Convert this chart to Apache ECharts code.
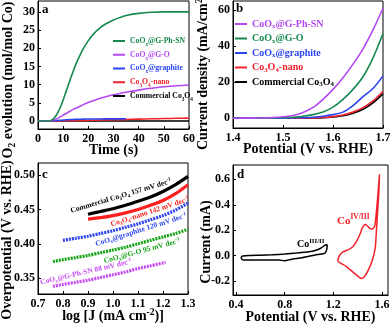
<!DOCTYPE html>
<html>
<head>
<meta charset="utf-8">
<script src="https://cdn.jsdelivr.net/npm/echarts@6/dist/echarts.min.js"></script>
<style>
html, body { margin: 0; padding: 0; background: #fff; }
#chart { width: 390px; height: 325px; }
</style>
</head>
<body>
<div id="chart"></div>
<script>
// panel a: O2 evolution vs time
var timeA = [0, 4, 5, 6, 7, 8, 9, 10, 11, 12, 13, 14, 15, 16, 18, 20, 22, 25, 28, 30, 35, 40, 45, 50, 55, 60];
var o2PhSN = [0, 0, 0.1, 0.5, 1.3, 2.5, 4, 5.8, 7.8, 9.8, 11.8, 13.7, 15.5, 17.1, 19.9, 22.1, 23.9, 25.8, 27.1, 27.8, 29, 29.6, 29.9, 30, 30, 30];
var o2GO = [0, 0, 0.05, 0.2, 0.45, 0.8, 1.2, 1.6, 2, 2.4, 2.8, 3.2, 3.5, 3.8, 4.5, 5.1, 5.6, 6.3, 6.9, 7.2, 7.9, 8.5, 9, 9.4, 9.7, 9.9];
var o2Graphite = [0, 0, 0.02, 0.05, 0.1, 0.15, 0.2, 0.25, 0.3, 0.35, 0.4, 0.42, 0.45, 0.48, 0.52, 0.55, 0.56, 0.57, 0.58, 0.58, 0.6, null, null, null, null, null];
var o2Nano = [0, 0, 0.01, 0.02, 0.03, 0.04, 0.05, 0.07, 0.08, 0.09, 0.1, 0.11, 0.12, 0.13, 0.16, 0.19, 0.22, 0.27, 0.32, 0.35, 0.43, 0.52, 0.6, 0.67, 0.74, 0.8];
var o2Comm = [0, 0, 0, 0, 0, 0, 0, 0, 0, 0, 0, 0, 0, 0, 0, 0, 0, 0, 0, 0, 0, 0, 0, 0, 0, 0];

// panel b: polarization curves
var potB = [1.40, 1.42, 1.44, 1.46, 1.48, 1.50, 1.52, 1.54, 1.56, 1.58, 1.60, 1.62, 1.64, 1.66, 1.68, 1.70];
var jPhSN = [0, 0.05, 0.1, 0.2, 0.4, 0.8, 1.5, 3.2, 6, 10.5, 16, 22.5, 30, 38.5, 49, 61];
var jGO = [0, 0, 0.05, 0.1, 0.2, 0.35, 0.6, 1.1, 2, 3.5, 6.2, 10.5, 16, 23, 33.5, 47];
var jGraphite = [0, 0, 0, 0.02, 0.05, 0.1, 0.2, 0.35, 0.6, 1.1, 2, 3.4, 7, 12, 16.5, 23.5];
var jNano = [0, 0, 0, 0, 0, 0.02, 0.05, 0.1, 0.2, 0.4, 0.9, 1.8, 3.4, 5.9, 9.6, 15];
var jComm = [0, 0, 0, 0, 0, 0, 0.02, 0.05, 0.12, 0.3, 0.7, 1.4, 2.8, 5, 8.6, 13.5];

// panel c: Tafel plots
var tafCommX = [0.90, 0.95, 1.00, 1.05, 1.10, 1.15, 1.20, 1.25, 1.30];
var tafCommY = [0.443, 0.447, 0.451, 0.456, 0.462, 0.468, 0.476, 0.486, 0.498];
var tafNanoX = [0.90, 0.95, 1.00, 1.05, 1.10, 1.15, 1.20, 1.25, 1.30];
var tafNanoY = [0.436, 0.438, 0.441, 0.445, 0.450, 0.456, 0.463, 0.473, 0.486];
var tafGraphiteX = [0.80, 0.85, 0.90, 0.95, 1.00, 1.05, 1.10, 1.15, 1.20, 1.25, 1.30];
var tafGraphiteY = [0.405, 0.408, 0.411, 0.415, 0.419, 0.424, 0.429, 0.435, 0.441, 0.449, 0.459];
var tafGOX = [0.76, 0.80, 0.85, 0.90, 0.95, 1.00, 1.05, 1.10, 1.15, 1.20, 1.25, 1.30];
var tafGOY = [0.374, 0.377, 0.380, 0.383, 0.387, 0.391, 0.395, 0.400, 0.405, 0.410, 0.415, 0.421];
var tafPhSNX = [0.76, 0.80, 0.85, 0.90, 0.95, 1.00, 1.05, 1.10, 1.15, 1.21];
var tafPhSNY = [0.338, 0.341, 0.344, 0.347, 0.351, 0.355, 0.359, 0.364, 0.368, 0.373];

// panel d: cyclic voltammograms
var cvLowV = [0.44, 0.45, 0.50, 0.60, 0.70, 0.80, 0.90, 1.00, 1.05, 1.10, 1.14, 1.15, 1.14, 1.12, 1.05, 0.95, 0.85, 0.80, 0.75, 0.65, 0.55, 0.46, 0.44];
var cvLowI = [-0.02, -0.005, 0.0, 0.003, 0.007, 0.012, 0.02, 0.03, 0.04, 0.06, 0.085, 0.08, 0.03, 0.015, 0.005, -0.015, -0.03, -0.04, -0.035, -0.035, -0.035, -0.035, -0.02];
var cvHighV = [1.235, 1.25, 1.28, 1.32, 1.36, 1.39, 1.42, 1.44, 1.46, 1.48, 1.50, 1.52, 1.54, 1.55, 1.56, 1.57, 1.58, 1.575, 1.565, 1.555, 1.545, 1.52, 1.49, 1.46, 1.43, 1.40, 1.35, 1.30, 1.26, 1.235];
var cvHighI = [-0.04, 0.0, 0.03, 0.045, 0.07, 0.11, 0.17, 0.22, 0.245, 0.235, 0.215, 0.21, 0.23, 0.3, 0.4, 0.52, 0.64, 0.5, 0.35, 0.2, 0.06, -0.04, -0.11, -0.16, -0.18, -0.16, -0.12, -0.08, -0.06, -0.04];

var serif = 'Liberation Serif';
var green = '#17894f', purple = '#b347f2', blue = '#2b45f2', red = '#f2222a', black = '#000';
var cGreen = '#15a315', cPurple = '#c64cf2', cBlue = '#2f45ee', cRed = '#ff1f1f';

// '_x' -> subscript char, '^{..}' -> superscript
function rt(s) {
  return s.replace(/_(\w)/g, '{s|$1}').replace(/\^\{([^}]*)\}/g, '{p|$1}');
}
function richSet(size) {
  return {
    s: { fontSize: size * 0.68, fontFamily: serif, fontWeight: 'bold', verticalAlign: 'bottom', lineHeight: size * 0.8 },
    p: { fontSize: size * 0.68, fontFamily: serif, fontWeight: 'bold', verticalAlign: 'top', lineHeight: size * 0.8 }
  };
}
function zip(xs, ys) {
  return xs.map(function (x, i) { return [x, ys[i]]; });
}

var tickFont = { color: '#000', fontFamily: serif, fontWeight: 'bold', fontSize: 12 };
var nameFont = { color: '#000', fontFamily: serif, fontWeight: 'bold', fontSize: 14, lineHeight: 16, rich: richSet(14) };

function axis(grid, min, max, ticks, fmt, name, gap, isY) {
  return {
    type: 'value', gridIndex: grid, min: min, max: max,
    name: name ? rt(name) : '', nameLocation: 'middle', nameGap: gap, nameMoveOverlap: false,
    nameTextStyle: nameFont,
    axisLine: { show: true, onZero: false, lineStyle: { color: '#000', width: 1 } },
    axisTick: { show: true, inside: true, length: 3, customValues: ticks, lineStyle: { color: '#000' } },
    axisLabel: Object.assign({ margin: isY ? 3 : 4, customValues: ticks, formatter: fmt, hideOverlap: false }, tickFont),
    splitLine: { show: false }
  };
}
function f1(v) { return v.toFixed(1); }
function f2(v) { return v.toFixed(2); }
function f0(v) { return String(Math.round(v)); }

function lineA(name, ys, color, axisIdx) {
  return {
    name: name, type: 'line', xAxisIndex: axisIdx, yAxisIndex: axisIdx,
    data: zip(axisIdx === 0 ? timeA : potB, ys), smooth: 0.3, showSymbol: false,
    lineStyle: { color: color, width: 1.6 }, itemStyle: { color: color }
  };
}
function lineC(xs, ys, color, dashed) {
  return {
    type: 'line', xAxisIndex: 2, yAxisIndex: 2, data: zip(xs, ys), smooth: 0.3, showSymbol: false,
    lineStyle: { color: color, width: 3.2, type: dashed ? [2, 1] : 'solid' }
  };
}
function lineD(xs, ys, color) {
  return {
    type: 'line', xAxisIndex: 3, yAxisIndex: 3, data: zip(xs, ys), smooth: 0.2, showSymbol: false,
    lineStyle: { color: color, width: 1.5 }
  };
}

var labels = {
  PhSN: 'CoO_x@G-Ph-SN', GO: 'CoO_x@G-O', graphite: 'CoO_x@graphite',
  nano: 'Co_3O_4-nano', comm: 'Commercial Co_3O_4'
};
function legendItems(panel, keys, colors) {
  return keys.map(function (k, i) {
    return { name: panel + k, textStyle: { color: colors[i] } };
  });
}
function legend(panel, left, top, size, gap, keys, colors) {
  return {
    left: left, top: top, orient: 'vertical', icon: 'rect', itemWidth: 12, itemHeight: 2,
    itemGap: gap, selectedMode: false, padding: 0,
    data: legendItems(panel, keys, colors),
    formatter: function (n) { return rt(labels[n.slice(2)]); },
    textStyle: { fontFamily: serif, fontWeight: 'bold', fontSize: size, lineHeight: 12, rich: richSet(size) }
  };
}

function note(x, y, text, color, size, angle, align) {
  return {
    type: 'text', x: x, y: y, rotation: (angle || 0) * Math.PI / 180,
    style: {
      text: rt(text), fill: color, fontFamily: serif, fontWeight: 'bold', fontSize: size,
      align: align || 'center', verticalAlign: 'middle', lineHeight: size * 1.3, rich: richSet(size)
    }
  };
}

function grid(left, top, width, height) {
  return {
    left: left, top: top, width: width, height: height, show: true,
    borderColor: '#000', borderWidth: 1, containLabel: false, outerBoundsMode: 'none'
  };
}

var option = {
  animation: false,
  grid: [
    grid(38, 1, 151, 128),
    grid(233, 1, 150, 127),
    grid(38, 163, 150, 131),
    grid(233, 165, 155, 130)
  ],
  xAxis: [
    axis(0, 0, 60, [0, 10, 20, 30, 40, 50, 60], f0, 'Time (s)', 13),
    axis(1, 1.4, 1.7, [1.4, 1.5, 1.6, 1.7], f1, 'Potential (V vs. RHE)', 13),
    axis(2, 0.7, 1.3, [0.7, 0.8, 0.9, 1.0, 1.1, 1.2, 1.3], f1, 'log [J (mA cm^{-2})]', 14),
    axis(3, 0.375, 1.65, [0.4, 0.8, 1.2, 1.6], f1, 'Potential (V vs. RHE)', 14)
  ],
  yAxis: [
    axis(0, -2.2, 33, [0, 5, 10, 15, 20, 25, 30], f0, '', 0, true),
    axis(1, -5.4, 65, [0, 20, 40, 60], f0, '', 0, true),
    axis(2, 0.327, 0.5175, [0.35, 0.40, 0.45, 0.50], f2, '', 0, true),
    axis(3, -0.31, 0.713, [-0.2, 0, 0.2, 0.4, 0.6], f1, '', 0, true)
  ],
  legend: [
    legend('a:', 113, 35, 7.7, 1.75, ['PhSN', 'GO', 'graphite', 'nano', 'comm'], [green, purple, blue, red, black]),
    legend('b:', 235, 18, 10, 2.5, ['PhSN', 'GO', 'graphite', 'nano', 'comm'], [purple, green, blue, red, black])
  ],
  series: [
    lineA('a:comm', o2Comm, black, 0),
    lineA('a:nano', o2Nano, red, 0),
    lineA('a:graphite', o2Graphite, blue, 0),
    lineA('a:GO', o2GO, purple, 0),
    lineA('a:PhSN', o2PhSN, green, 0),
    lineA('b:comm', jComm, black, 1),
    lineA('b:nano', jNano, red, 1),
    lineA('b:graphite', jGraphite, blue, 1),
    lineA('b:GO', jGO, green, 1),
    lineA('b:PhSN', jPhSN, purple, 1),
    lineC(tafCommX, tafCommY, black, false),
    lineC(tafNanoX, tafNanoY, cRed, false),
    lineC(tafGraphiteX, tafGraphiteY, cBlue, true),
    lineC(tafGOX, tafGOY, cGreen, true),
    lineC(tafPhSNX, tafPhSNY, cPurple, true),
    lineD(cvLowV, cvLowI, black),
    lineD(cvHighV, cvHighI, red)
  ],
  graphic: [
    // y axis titles
    note(8.5, 80, 'O_2 evolution (mol/mol Co)', '#000', 14, 90),
    note(203.5, 72, 'Current density (mA/cm^{2})', '#000', 14, 90),
    note(7.5, 240, 'Overpotential (V vs. RHE)', '#000', 14, 90),
    note(206.5, 242, 'Current (mA)', '#000', 14, 90),
    // panel letters
    note(42, 10, 'a', '#000', 13, 0, 'left'),
    note(236, 9, 'b', '#000', 13, 0, 'left'),
    note(42, 175, 'c', '#000', 13, 0, 'left'),
    note(237, 175, 'd', '#000', 13, 0, 'left'),
    // Tafel slopes
    note(121, 196, 'Commercial Co_3O_4 157 mV dec^{-1}', '#000', 7.5, 16.5),
    note(150, 212, 'Co_3O_4-nano 142 mV dec^{-1}', cRed, 7.5, 18),
    note(141, 230, 'CoO_x@graphite 120 mV dec^{-1}', cBlue, 7.5, 17.5),
    note(142, 251, 'CoO_x@G-O 95 mV dec^{-1}', cGreen, 7.5, 15),
    note(86, 272, 'CoO_x@G-Ph-SN 88 mV dec^{-1}', cPurple, 7.5, 13),
    // CV peaks
    note(297, 244, 'Co^{III/II}', '#000', 10, 0, 'left'),
    note(337, 221, 'Co^{IV/III}', red, 11, 0, 'left')
  ]
};

var myChart = echarts.init(document.getElementById('chart'));
myChart.setOption(option);
</script>
</body>
</html>
